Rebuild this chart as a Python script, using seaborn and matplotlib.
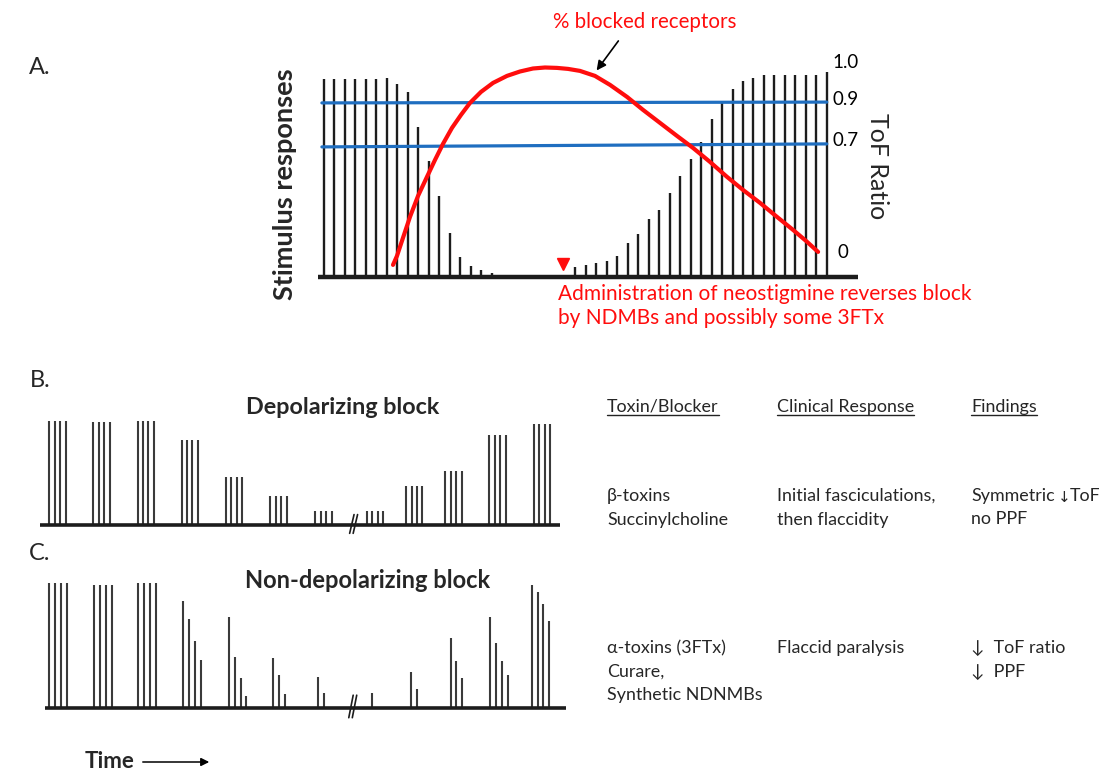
import numpy as np
import pandas as pd
import seaborn as sns
import matplotlib.pyplot as plt
from matplotlib.lines import Line2D

W, H = 1099, 774

# ---- panel A: train-of-four responses (fraction of control) ----
left_resp = [0.987, 0.987, 0.987, 0.987, 0.987, 0.987, 0.992, 0.964, 0.925,
             0.747, 0.58, 0.404, 0.217, 0.10, 0.055, 0.034, 0.017]
right_resp = [0.05, 0.058, 0.067, 0.08, 0.104, 0.167, 0.214, 0.287, 0.334,
              0.417, 0.504, 0.587, 0.675, 0.787, 0.867, 0.939, 0.979, 0.995,
              1.008, 1.008, 1.008, 1.008, 1.008, 1.008, 1.025]
right_start = 24

# % blocked receptors curve (pulse index, fraction)
block_x = [6.59, 6.97, 7.54, 8.21, 8.98, 9.83, 10.60, 11.36, 12.22, 13.08,
           13.94, 14.99, 16.14, 17.47, 18.71, 19.95, 21.10, 22.25, 23.30,
           24.44, 25.87, 27.31, 28.93, 30.46, 32.08, 33.70, 35.23, 36.85,
           38.48, 40.00, 41.63, 43.25, 44.78, 46.02, 47.17]
block_y = [0.059, 0.104, 0.194, 0.299, 0.404, 0.499, 0.584, 0.664, 0.744,
           0.809, 0.869, 0.924, 0.969, 1.004, 1.026, 1.041, 1.046, 1.044,
           1.039, 1.029, 1.004, 0.959, 0.899, 0.834, 0.769, 0.704, 0.644,
           0.574, 0.499, 0.434, 0.369, 0.299, 0.234, 0.179, 0.124]

tof_x = [-0.2, 48.0]
tof09_y = [0.869, 0.873]
tof07_y = [0.649, 0.664]
tof_labels = ['1.0', '0.9', '0.7', '0']
neostigmine_at = 22.8

# ---- panel B: depolarizing block ----
depol_pos = [0, 1.0, 2.0, 3.0, 4.0, 5.01, 6.03, 7.2, 8.09, 8.98, 9.98, 10.99]
depol_h = [1.0, 0.987, 1.0, 0.815, 0.458, 0.281, 0.134, 0.134, 0.37, 0.515,
           0.863, 0.965]

# ---- panel C: non-depolarizing block ----
nondepol_pos = [0, 1.01, 2.02, 3.04, 4.07, 5.08, 6.1, 7.32, 8.2, 9.1, 10.0, 10.94]
nondepol_h = [[1.0, 1.0, 1.0, 1.0],
              [0.984, 0.984, 0.984, 0.984],
              [0.995, 0.995, 0.995, 0.995],
              [0.856, 0.707, 0.531, 0.382],
              [0.723, 0.403, 0.238, 0.094],
              [0.395, 0.259, 0.107],
              [0.243, 0.115],
              [0.115],
              [0.283, 0.15],
              [0.555, 0.374, 0.24],
              [0.728, 0.515, 0.374, 0.262],
              [0.984, 0.928, 0.83, 0.694]]

headers = ['Toxin/Blocker', 'Clinical Response', 'Findings']
row_b = [['\u03b2-toxins', 'Succinylcholine'],
         ['Initial fasciculations,', 'then flaccidity'],
         [None, 'no PPF']]
row_c = [['\u03b1-toxins (3FTx)', 'Curare,', 'Synthetic NDNMBs'],
         ['Flaccid paralysis'],
         ['\u2193  ToF ratio', '\u2193  PPF']]

sns.set_theme(style="white")
plt.rcParams['font.family'] = ['Lato', 'DejaVu Sans']

fig = plt.figure(figsize=(W / 100, H / 100), dpi=100)
fig.patch.set_facecolor('white')


def px_axes(left, top, right, bottom):
    ax = fig.add_axes([left / W, 1 - bottom / H, (right - left) / W, (bottom - top) / H])
    ax.axis('off')
    return ax


def ftxt(x, y, s, **kw):
    kw.setdefault('va', 'center')
    return fig.text(x / W, 1 - y / H, s, **kw)


dark = '#1c1c1c'
red = '#ff0d0d'
blue = '#1f6ec0'

# panel A
axA = px_axes(317.7, 56.7, 858.2, 276.7)
axA.set_xlim(-0.6, 51)
axA.set_ylim(0, 1.1)
axA.vlines(np.arange(len(left_resp)), 0, left_resp, color=dark, lw=1.7)
axA.vlines(np.arange(len(right_resp)) + right_start, 0, right_resp, color=dark, lw=1.7)
axA.plot([-0.6, 51], [0, 0], color=dark, lw=3.2, clip_on=False, solid_capstyle='butt')
sns.lineplot(x=tof_x, y=tof09_y, ax=axA, color=blue, lw=2.3)
sns.lineplot(x=tof_x, y=tof07_y, ax=axA, color=blue, lw=2.3)
sns.lineplot(x=block_x, y=block_y, ax=axA, color=red, lw=3, sort=False)
axA.plot([neostigmine_at], [0.065], marker='v', color=red, ms=9, clip_on=False)
for lab, yy in zip(tof_labels, [1.07, 0.885, 0.68, 0.12]):
    axA.text(48.5 if lab != '0' else 49.0, yy, lab, fontsize=13.5, va='center',
             ha='left', color='black')
axA.annotate('', xy=(25.87, 1.02), xytext=(28.26, 1.19), annotation_clip=False,
             arrowprops=dict(arrowstyle='-|>', color='black', lw=1.2, mutation_scale=14))

ftxt(645, 22, '% blocked receptors', color=red, fontsize=14.8, ha='center')
ftxt(558, 294, 'Administration of neostigmine reverses block', color=red,
     fontsize=15, ha='left')
ftxt(558, 318, 'by NDMBs and possibly some 3FTx', color=red, fontsize=15, ha='left')
ftxt(285, 184, 'Stimulus responses', rotation=90, fontsize=19.5,
     fontweight='bold', ha='center')
ftxt(877, 166, 'ToF Ratio', rotation=270, fontsize=18, ha='center')
ftxt(40, 67, 'A.', fontsize=17, ha='center')
ftxt(40, 380, 'B.', fontsize=17, ha='center')
ftxt(40, 554, 'C.', fontsize=17, ha='center')


def draw_break(ax, u):
    for d in (0, 0.08):
        ax.plot([u + d - 0.05, u + d + 0.05], [-0.08, 0.1], color=dark, lw=1.2,
                clip_on=False)


# panel B
axB = px_axes(40, 415.5, 560, 525)
axB.set_xlim(-0.211, 11.58)
axB.set_ylim(0, 1.05)
for p, h in zip(depol_pos, depol_h):
    axB.vlines(p + np.arange(4) * 0.123, 0, h, color='#3a3a3a', lw=1.5)
axB.plot([-0.211, 11.58], [0, 0], color=dark, lw=2.6, clip_on=False, solid_capstyle='butt')
draw_break(axB, 6.86)
ftxt(343, 407, 'Depolarizing block', fontsize=16.8, fontweight='bold', ha='center')

# panel C
axC = px_axes(45, 576.4, 565.7, 707.7)
axC.set_xlim(-0.1, 11.71)
axC.set_ylim(0, 1.05)
for p, hs in zip(nondepol_pos, nondepol_h):
    axC.vlines(p + np.arange(len(hs)) * 0.133, 0, hs, color='#3a3a3a', lw=1.5)
axC.plot([-0.1, 11.71], [0, 0], color=dark, lw=2.6, clip_on=False, solid_capstyle='butt')
draw_break(axC, 6.84)
ftxt(368, 580, 'Non-depolarizing block', fontsize=17, fontweight='bold', ha='center')

# table
cols = [607, 777, 971]
fs = 12.9
head_txt = [ftxt(x, 407, s, fontsize=fs, ha='left') for x, s in zip(cols, headers)]
for x, lines in zip(cols, row_b):
    for i, s in enumerate(lines):
        if s:
            ftxt(x, 496 + 23.5 * i, s, fontsize=fs, ha='left')
for x, lines in zip(cols, row_c):
    for i, s in enumerate(lines):
        ftxt(x, 648 + 23.5 * i, s, fontsize=fs, ha='left')
sym = ftxt(971, 496, 'Symmetric', fontsize=fs, ha='left')

# time arrow
ftxt(85, 762, 'Time', fontsize=16, fontweight='bold', ha='left')
axC.annotate('', xy=(212 / W, 1 - 762 / H), xytext=(140 / W, 1 - 762 / H),
             xycoords='figure fraction', textcoords='figure fraction',
             arrowprops=dict(arrowstyle='-|>', color='black', lw=1.1, mutation_scale=12))

fig.canvas.draw()
for t in head_txt:
    bb = t.get_window_extent()
    yy = 1 - 415 / H
    fig.add_artist(Line2D([bb.x0 / W, bb.x1 / W], [yy, yy], color='#222222', lw=1.0))

# "Symmetric ↓ToF" packed tightly like the original
x1 = sym.get_window_extent().x1
arr = ftxt(x1 + 3, 497, '\u2193', fontsize=11, ha='left', family='DejaVu Sans')
fig.canvas.draw()
x2 = arr.get_window_extent().x1
ftxt(x2 - 1, 496, 'ToF', fontsize=fs, ha='left')

fig.savefig('out.png', dpi=100, facecolor='white')
